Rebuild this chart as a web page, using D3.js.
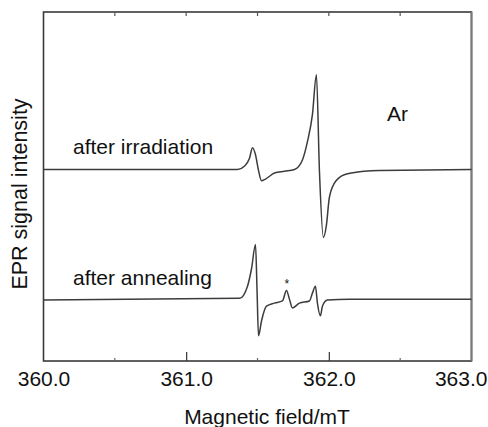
<!DOCTYPE html>
<html>
<head>
<meta charset="utf-8">
<script src="https://cdn.jsdelivr.net/npm/d3@7"></script>
<style>
  body { margin: 0; background: #fff; }
  text { font-family: "Liberation Sans", Arial, sans-serif; fill: #111; }
</style>
</head>
<body>
<div id="chart"></div>
<script>
// field (mT) and derivative signal (arb. units, relative to each baseline)
const fieldIrr = [360.0, 361.36, 361.41, 361.444, 361.465, 361.486, 361.507, 361.528, 361.556, 361.619, 361.689, 361.759, 361.815, 361.85, 361.885, 361.913, 361.934, 361.962, 361.983, 362.003, 362.038, 362.108, 362.248, 362.353, 363.0]
const signalIrr = [0, 0, 0.04, 0.13, 0.25, 0.17, -0.01, -0.13, -0.11, -0.04, -0.02, 0.0, 0.11, 0.32, 0.63, 1.09, -0.01, -0.78, -0.64, -0.33, -0.16, -0.06, -0.02, -0.01, 0]

const fieldAnn = [360.0, 361.374, 361.43, 361.458, 361.486, 361.497, 361.507, 361.528, 361.563, 361.619, 361.675, 361.703, 361.724, 361.745, 361.794, 361.864, 361.885, 361.906, 361.92, 361.941, 361.955, 361.99, 362.144, 363.0]
const signalAnn = [0, 0.02, 0.16, 0.36, 0.64, 0.10, -0.41, -0.24, -0.07, -0.035, -0.01, 0.11, 0.01, -0.09, -0.035, -0.01, 0.08, 0.16, -0.035, -0.18, -0.07, 0, 0.01, 0.01]

const traceNames = ["after irradiation", "after annealing"]
const traceOffsets = [1.5, 0]

const xTickValues = [360, 361, 362, 363]
const xMinorTicks = [360.5, 361.5, 362.5]
const markerField = 361.705   // the "*" peak

const svgWidth = 488, svgHeight = 427
const plot = { left: 43.5, top: 12, right: 471.5, bottom: 361 }

const svg = d3.select('#chart')
              .append('svg')
              .attr('width', svgWidth)
              .attr('height', svgHeight)

const xScale = d3.scaleLinear()
                 .domain([360, 363])
                 .range([plot.left, plot.right])

// one unit ~ 87 px, lower baseline at 0
const yScale = d3.scaleLinear()
                 .domain([-0.7, 3.31])
                 .range([plot.bottom, plot.top])

// frame
svg.append('rect')
   .attr('x', plot.left).attr('y', plot.top)
   .attr('width', plot.right - plot.left)
   .attr('height', plot.bottom - plot.top)
   .attr('fill', 'none')
   .attr('stroke', '#3a3a3a')
   .attr('stroke-width', 1.6)
svg.append('line')
   .attr('x1', plot.right).attr('x2', plot.right)
   .attr('y1', plot.top).attr('y2', plot.bottom)
   .attr('stroke', '#7a7a7a').attr('stroke-width', 1.8)

// bottom axis: inward ticks, labels below
const bottomAxis = d3.axisBottom(xScale)
                     .tickValues(xTickValues)
                     .tickSizeInner(-9)
                     .tickSizeOuter(0)
                     .tickPadding(10)
                     .tickFormat(d3.format('.1f'))
const gx = svg.append('g')
              .attr('transform', `translate(0, ${plot.bottom})`)
              .call(bottomAxis)
gx.select('.domain').remove()
gx.selectAll('.tick line').attr('stroke', '#333').attr('stroke-width', 1.2)
gx.selectAll('.tick text')
  .attr('font-size', '21px')
  .attr('font-family', '"Liberation Sans", Arial, sans-serif')
  .attr('fill', '#111')
gx.selectAll('.tick')
  .filter(d => d === 360 || d === 363)
  .select('line').remove()
// last label sits pulled in so it stays inside the page
gx.selectAll('.tick')
  .filter(d => d === 363)
  .select('text')
  .attr('text-anchor', 'end')
  .attr('dx', 15.5)

// minor ticks bottom and small ticks on top
svg.append('g').selectAll('line')
   .data(xMinorTicks)
   .enter()
   .append('line')
   .attr('x1', d => xScale(d)).attr('x2', d => xScale(d))
   .attr('y1', plot.bottom).attr('y2', plot.bottom - 3)
   .attr('stroke', '#666').attr('stroke-width', 1.2)

svg.append('g').selectAll('line')
   .data(xMinorTicks.concat([361, 362]))
   .enter()
   .append('line')
   .attr('x1', d => xScale(d)).attr('x2', d => xScale(d))
   .attr('y1', plot.top).attr('y2', plot.top + 4)
   .attr('stroke', '#555').attr('stroke-width', 1.2)

// traces
const traces = [
  { name: traceNames[0], offset: traceOffsets[0], pts: fieldIrr.map((f, i) => ({ x: f, y: signalIrr[i] })) },
  { name: traceNames[1], offset: traceOffsets[1], pts: fieldAnn.map((f, i) => ({ x: f, y: signalAnn[i] })) }
]

const line = d3.line()
               .curve(d3.curveMonotoneX)

svg.append('g')
   .selectAll('path')
   .data(traces)
   .enter()
   .append('path')
   .attr('d', t => line.x(d => xScale(d.x)).y(d => yScale(d.y + t.offset))(t.pts))
   .attr('fill', 'none')
   .attr('stroke', '#3c3c3c')
   .attr('stroke-width', 1.5)
   .attr('stroke-linejoin', 'round')

// trace labels
svg.append('g')
   .selectAll('text')
   .data(traces)
   .enter()
   .append('text')
   .attr('x', 73)
   .attr('y', t => yScale(t.offset) - 15.5)
   .attr('font-size', '21px')
   .text(t => t.name)

svg.append('text')
   .attr('x', 387).attr('y', 121)
   .attr('font-size', '21px')
   .text('Ar')

svg.append('text')
   .attr('x', xScale(markerField))
   .attr('y', yScale(0.11) - 3)
   .attr('text-anchor', 'middle')
   .attr('font-size', '12px')
   .attr('fill', '#222')
   .text('*')

// axis titles
svg.append('text')
   .attr('x', 267).attr('y', 424)
   .attr('text-anchor', 'middle')
   .attr('font-size', '21px')
   .text('Magnetic field/mT')

svg.append('text')
   .attr('transform', 'translate(27, 194) rotate(-90)')
   .attr('text-anchor', 'middle')
   .attr('font-size', '21.5px')
   .text('EPR signal intensity')
</script>
</body>
</html>
